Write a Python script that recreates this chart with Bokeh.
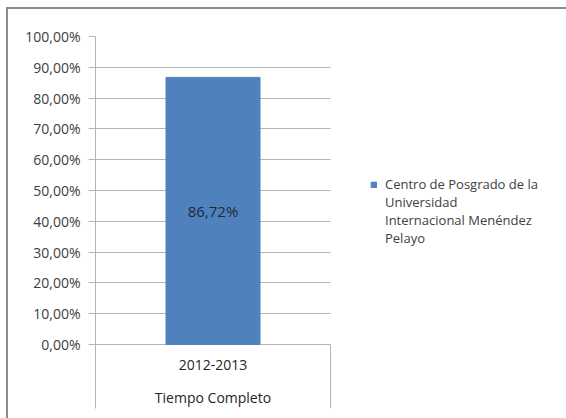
from bokeh.plotting import figure
from bokeh.models import (Range1d, FixedTicker, Legend, LegendItem,
                          ColumnDataSource, BoxAnnotation)
from bokeh.core.properties import value
from bokeh.embed import file_html
from bokeh.resources import INLINE

# ---- data ----
years = ["2012-2013"]
group_label = "Tiempo Completo"
series_name = "Centro de Posgrado de la\nUniversidad\nInternacional Menéndez\nPelayo"
values = [86.72]
tick_values = [0, 10, 20, 30, 40, 50, 60, 70, 80, 90, 100]
tick_labels = ["0,00%", "10,00%", "20,00%", "30,00%", "40,00%", "50,00%",
               "60,00%", "70,00%", "80,00%", "90,00%", "100,00%"]

FONT = "Open Sans"
TXT = "#404040"
GRID = "#b4b4b4"
BAR = "#4f81bd"

W, H = 566, 418
LEFT, TOP, BOTTOM = 95, 36, 10
CAT_PX = 235           # width of the category plot area in pixels
n_cat = len(years)
xs = [i + 0.5 for i in range(n_cat)]
x_end = n_cat * (W - LEFT) / CAT_PX   # frame extends under the legend
y_start = -20.78       # room for the two-level category area below 0

p = figure(width=W, height=H, output_backend="svg", toolbar_location=None,
           x_range=Range1d(0, x_end), y_range=Range1d(y_start, 100),
           x_axis_location=None,
           min_border_left=LEFT, min_border_right=0,
           min_border_top=TOP, min_border_bottom=BOTTOM)
p.outline_line_color = None
p.background_fill_color = "white"
p.border_fill_color = None
p.styles = {"box-shadow": "inset 6px 7px 0 0 white, inset 8px 9px 0 0 #8c8c8c"}

src = ColumnDataSource(dict(x=xs, top=values, mid=[v / 2 for v in values],
                            cat=years,
                            lab=[f"{v:.2f}".replace(".", ",") + "%" for v in values]))

# grid
p.xgrid.visible = False
p.ygrid.ticker = FixedTicker(ticks=tick_values)
p.ygrid.grid_line_color = GRID
p.ygrid.grid_line_width = 1

# hide gridlines to the right of the category area (legend region)
p.add_layout(BoxAnnotation(left=n_cat, fill_color="white", fill_alpha=1,
                           line_alpha=0, level="underlay"))

# left axis
ya = p.yaxis[0]
ya.ticker = FixedTicker(ticks=tick_values)
ya.major_label_overrides = {t: l for t, l in zip(tick_values, tick_labels)}
ya.axis_line_color = GRID
ya.major_tick_line_color = GRID
ya.major_tick_out = 7
ya.major_tick_in = 0
ya.minor_tick_line_color = None
ya.major_label_standoff = 8
ya.major_label_text_font = FONT
ya.major_label_text_font_size = "14px"
ya.major_label_text_color = TXT

# right separator of the category axis
p.segment(x0=[n_cat], y0=[y_start], x1=[n_cat], y1=[0], line_color=GRID,
          line_width=1)

bar = p.vbar(x="x", top="top", width=0.4, source=src, fill_color=BAR,
             line_color=BAR)

p.text(x="x", y="mid", text="lab", source=src, text_align="center",
       text_baseline="middle", text_font=value(FONT), text_font_size="15px",
       text_color="#1f2a38")

# category labels
p.text(x="x", y=0, text="cat", source=src, y_offset=21, text_align="center",
       text_baseline="middle", text_font=value(FONT), text_font_size="14px",
       text_color="#262626")
p.text(x=[sum(xs) / n_cat], y=[0], text=[group_label], y_offset=53,
       text_align="center", text_baseline="middle", text_font=value(FONT),
       text_font_size="14px", text_color="#262626")

# legend: first line carries the swatch, the rest are continuation lines
blank = p.scatter(x=[], y=[], fill_alpha=0, line_alpha=0)
lines = series_name.split("\n")
items = [LegendItem(label=lines[0], renderers=[bar])]
items += [LegendItem(label=t, renderers=[blank]) for t in lines[1:]]
legend = Legend(items=items, location=(275, 161))
legend.glyph_width = 7
legend.glyph_height = 7
legend.label_height = 18
legend.label_standoff = 8
legend.spacing = 0
legend.padding = 0
legend.margin = 0
legend.border_line_alpha = 0
legend.background_fill_alpha = 0
legend.label_text_font = FONT
legend.label_text_font_size = "13px"
legend.label_text_color = TXT
p.add_layout(legend)

open("out.html", "w").write(file_html(p, INLINE))
